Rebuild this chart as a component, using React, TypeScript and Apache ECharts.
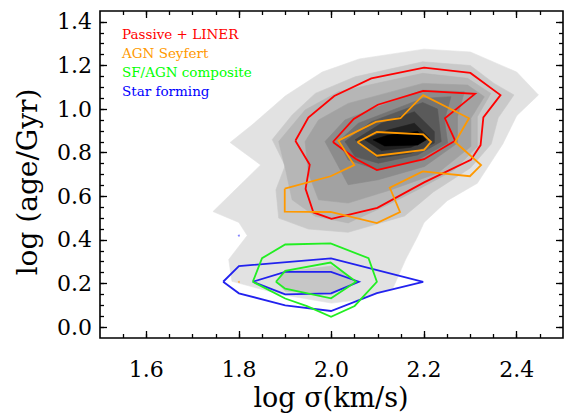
import React, { useEffect, useRef } from "react";
import * as echarts from "echarts";

// ---- tick values ----
const xMajorTicks = [1.6, 1.8, 2.0, 2.2, 2.4];
const xMinorTicks = [1.55, 1.6, 1.65, 1.7, 1.75, 1.8, 1.85, 1.9, 1.95, 2.0, 2.05, 2.1, 2.15, 2.2, 2.25, 2.3, 2.35, 2.4, 2.45];
const yMajorTicks = [0.0, 0.2, 0.4, 0.6, 0.8, 1.0, 1.2, 1.4];
const yMinorTicks = [0.0, 0.05, 0.1, 0.15, 0.2, 0.25, 0.3, 0.35, 0.4, 0.45, 0.5, 0.55, 0.6, 0.65, 0.7, 0.75, 0.8, 0.85, 0.9, 0.95, 1.0, 1.05, 1.1, 1.15, 1.2, 1.25, 1.3, 1.35, 1.4];

// ---- filled density levels (log sigma, log age) ----
const level1 = [[1.744,0.53],[1.847,0.744],[1.781,0.847],[1.83,0.93],[1.90,1.06],[1.98,1.17],[2.06,1.23],[2.2,1.275],[2.30,1.262],[2.40,1.17],[2.447,1.065],[2.40,0.97],[2.37,0.84],[2.315,0.66],[2.25,0.58],[2.20,0.48],[2.187,0.42],[2.16,0.31],[2.133,0.18],[2.06,0.125],[2.0,0.11],[1.89,0.15],[1.785,0.21],[1.778,0.31],[1.818,0.42],[1.80,0.48]];
const level2 = [[1.872,0.86],[1.915,0.973],[1.965,1.072],[2.051,1.148],[2.197,1.217],[2.30,1.20],[2.351,1.118],[2.394,1.065],[2.36,0.96],[2.345,0.84],[2.30,0.73],[2.22,0.62],[2.158,0.51],[2.036,0.435],[1.95,0.45],[1.886,0.50],[1.88,0.63],[1.90,0.74]];
const level2Low = [[1.88,0.21],[1.90,0.255],[2.0,0.28],[2.055,0.21],[2.0,0.15],[1.90,0.165]];
const level3 = [[1.886,0.851],[1.943,0.996],[2.015,1.080],[2.197,1.164],[2.294,1.141],[2.344,1.072],[2.315,0.965],[2.315,0.828],[2.265,0.721],[2.186,0.630],[2.115,0.554],[2.036,0.478],[1.965,0.508],[1.915,0.584],[1.901,0.721]];
const level4 = [[1.943,0.851],[1.972,0.950],[2.036,1.026],[2.197,1.118],[2.294,1.110],[2.330,1.057],[2.301,0.958],[2.301,0.828],[2.229,0.706],[2.129,0.630],[2.036,0.569],[1.972,0.584],[1.950,0.706]];
const level5 = [[1.986,0.851],[2.029,0.950],[2.101,1.011],[2.197,1.087],[2.287,1.080],[2.272,0.965],[2.272,0.844],[2.201,0.737],[2.101,0.676],[2.036,0.653],[2.015,0.737]];
const level6 = [[2.015,0.851],[2.058,0.935],[2.197,1.049],[2.258,1.057],[2.244,0.950],[2.251,0.844],[2.186,0.767],[2.101,0.721],[2.036,0.767]];
const level7 = [[2.029,0.851],[2.086,0.942],[2.197,1.03],[2.229,1.0],[2.237,0.851],[2.186,0.790],[2.101,0.752],[2.051,0.782]];
const level8 = [[2.051,0.859],[2.108,0.935],[2.179,0.988],[2.222,0.897],[2.222,0.844],[2.172,0.798],[2.101,0.775]];
const level9 = [[2.072,0.859],[2.122,0.904],[2.179,0.935],[2.212,0.866],[2.172,0.825],[2.108,0.810]];
const level10 = [[2.090,0.859],[2.122,0.88],[2.186,0.897],[2.204,0.859],[2.186,0.835],[2.115,0.831]];

// ---- line contours ----
const passiveOuter = [[1.922,0.855],[1.950,0.961],[2.006,1.060],[2.086,1.141],[2.2,1.19],[2.30,1.166],[2.365,1.064],[2.328,0.962],[2.322,0.835],[2.301,0.767],[2.2,0.664],[2.099,0.547],[2.0,0.497],[1.961,0.526],[1.944,0.634],[1.953,0.745]];
const passiveInner = [[2.003,0.849],[2.048,0.955],[2.100,1.020],[2.198,1.084],[2.31,1.07],[2.245,0.958],[2.267,0.855],[2.2,0.770],[2.098,0.720],[2.052,0.772]];
const seyfertOuter = [[1.899,0.635],[1.899,0.530],[1.998,0.528],[2.098,0.477],[2.148,0.528],[2.126,0.639],[2.197,0.714],[2.299,0.692],[2.323,0.743],[2.267,0.849],[2.297,0.958],[2.198,1.064],[2.149,0.958],[2.096,0.941],[2.015,0.855],[2.049,0.743],[1.998,0.692]];
const seyfertInner = [[2.056,0.849],[2.098,0.895],[2.198,0.884],[2.215,0.850],[2.2,0.813],[2.098,0.786]];
const compositeOuter = [[1.830,0.208],[1.850,0.316],[1.900,0.379],[1.998,0.384],[2.080,0.316],[2.098,0.208],[2.050,0.097],[1.999,0.047],[1.947,0.096],[1.900,0.131]];
const compositeInner = [[1.880,0.208],[1.900,0.258],[1.998,0.296],[2.053,0.208],[1.999,0.132],[1.900,0.176]];
const starOuter = [[1.766,0.208],[1.800,0.280],[1.999,0.315],[2.198,0.208],[2.098,0.156],[1.999,0.074],[1.900,0.100],[1.800,0.155]];
const starInner = [[1.830,0.208],[1.900,0.253],[1.999,0.253],[2.059,0.208],[1.999,0.155],[1.900,0.150]];
const starDot = [[1.8, 0.42]];
const seyfertDot = [[1.8, 0.207]];

const legendLabels = ["Passive + LINER", "AGN Seyfert", "SF/AGN composite", "Star forming"];
const legendColors = ["#ff0000", "#ff9900", "#00ff00", "#0000ff"];

const SERIF = "'DejaVu Serif', serif";

function fillSeries(points: number[][], color: string) {
  return {
    type: "custom",
    silent: true,
    clip: true,
    data: [points[0]],
    renderItem: (_p: any, api: any) => ({
      type: "polygon",
      shape: { points: points.map((p) => api.coord(p)) },
      style: { fill: color, stroke: color, lineWidth: 0.6 },
    }),
  };
}

function lineSeries(points: number[][], color: string) {
  const closed = points.concat([points[0]]);
  return {
    type: "custom",
    silent: true,
    clip: true,
    data: [points[0]],
    renderItem: (_p: any, api: any) => ({
      type: "polyline",
      shape: { points: closed.map((p) => api.coord(p)) },
      style: { fill: "none", stroke: color, lineWidth: 1.8, lineJoin: "miter" },
    }),
  };
}

function axis(kind: "x" | "y", position: string, values: number[], len: number, labels: boolean) {
  const base: any = {
    type: "value",
    position,
    min: kind === "x" ? 1.5 : -0.05,
    max: kind === "x" ? 2.5 : 1.45,
    axisLine: { show: false, onZero: false },
    splitLine: { show: false },
    axisTick: { show: true, inside: true, length: len, customValues: values, lineStyle: { color: "#000", width: 1.3 } },
    axisLabel: labels
      ? {
          show: true,
          customValues: values,
          formatter: (v: number) => v.toFixed(1),
          color: "#000",
          fontFamily: SERIF,
          fontSize: 22,
          margin: kind === "x" ? 20 : 8,
        }
      : { show: false },
  };
  return base;
}

export default function App() {
  const ref = useRef<HTMLDivElement>(null);
  useEffect(() => {
    const chart = echarts.init(ref.current!, null, { renderer: "svg" });
    const fills = [
      fillSeries(level1, "#e2e2e2"),
      fillSeries(level2, "#c9c9c9"),
      fillSeries(level2Low, "#c6c6c6"),
      fillSeries(level3, "#b6b6b6"),
      fillSeries(level4, "#a2a2a2"),
      fillSeries(level5, "#8c8c8c"),
      fillSeries(level6, "#747474"),
      fillSeries(level7, "#5a5a5a"),
      fillSeries(level8, "#3e3e3e"),
      fillSeries(level9, "#202020"),
      fillSeries(level10, "#000000"),
    ];
    const lines = [
      lineSeries(passiveOuter, "#ff0000"),
      lineSeries(passiveInner, "#ff0000"),
      lineSeries(seyfertOuter, "#ff9900"),
      lineSeries(seyfertInner, "#ff9900"),
      lineSeries(starOuter, "#2222ee"),
      lineSeries(starInner, "#2222ee"),
      lineSeries(compositeOuter, "#22ee22"),
      lineSeries(compositeInner, "#22ee22"),
    ];
    const dots = [
      { type: "scatter", data: starDot, symbolSize: 2, itemStyle: { color: "#6666ff" }, silent: true },
      { type: "scatter", data: seyfertDot, symbolSize: 2, itemStyle: { color: "#ffaa44" }, silent: true },
    ];
    chart.setOption({
      animation: false,
      backgroundColor: "#ffffff",
      grid: {
        left: 100,
        top: 11,
        width: 463,
        height: 327,
        show: true,
        borderColor: "#000",
        borderWidth: 1.6,
        backgroundColor: "transparent",
        z: 10,
      },
      xAxis: [
        axis("x", "bottom", xMajorTicks, 7, true),
        axis("x", "bottom", xMinorTicks, 4, false),
        axis("x", "top", xMajorTicks, 7, false),
        axis("x", "top", xMinorTicks, 4, false),
      ],
      yAxis: [
        axis("y", "left", yMajorTicks, 7, true),
        axis("y", "left", yMinorTicks, 4, false),
        axis("y", "right", yMajorTicks, 7, false),
        axis("y", "right", yMinorTicks, 4, false),
      ],
      series: [...fills, ...lines, ...dots],
      graphic: [
        ...legendLabels.map((t, i) => ({
          type: "text",
          x: 122,
          y: 34 + i * 19,
          style: {
            text: t,
            fill: legendColors[i],
            font: "13.5px 'DejaVu Serif', serif",
            textVerticalAlign: "middle",
          },
        })),
        {
          type: "text",
          x: 27,
          y: 182,
          rotation: Math.PI / 2,
          style: {
            text: "log (age/Gyr)",
            fill: "#000",
            font: "28px 'DejaVu Serif', serif",
            textAlign: "center",
            textVerticalAlign: "middle",
          },
        },
        {
          type: "text",
          x: 331,
          y: 397,
          style: {
            text: "log σ(km/s)",
            fill: "#000",
            font: "27px 'DejaVu Serif', serif",
            textAlign: "center",
            textVerticalAlign: "middle",
          },
        },
      ],
    });
    return () => chart.dispose();
  }, []);
  return (
    <div
      ref={ref}
      style={{ position: "fixed", left: 0, top: 0, width: 565, height: 414, background: "#fff" }}
    />
  );
}
